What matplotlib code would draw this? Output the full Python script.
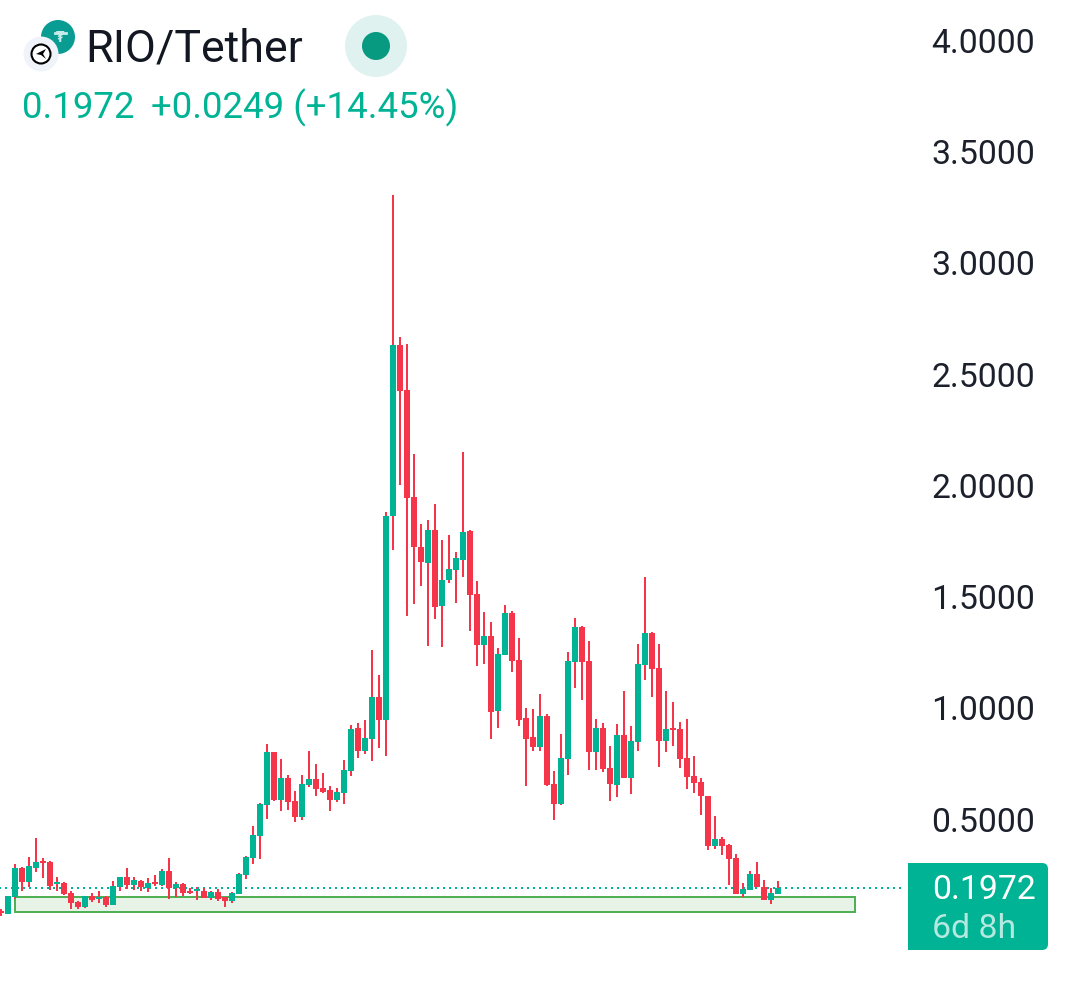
import matplotlib
matplotlib.use('Agg')
import matplotlib.pyplot as plt
from matplotlib.patches import Circle, FancyBboxPatch, Rectangle, Polygon
from matplotlib.transforms import ScaledTranslation
import numpy as np

plt.rcParams['font.family'] = ['Roboto', 'DejaVu Sans']

# candle values
opens = [.092, .078, .155, .285, .222, .285, .316, .312, .213, .217, .172, .132, .110, .159, .146, .155,
         .119, .199, .244, .208, .226, .195, .222, .208, .271, .195, .213, .181, .181, .181, .150, .177,
         .155, .137, .168, .253, .330, .429, .568, .806, .590, .689, .586, .514, .658, .685, .644, .635,
         .590, .622, .721, .914, .810, .864, 1.053, .950, 1.866, 2.634, 2.432, 1.951, 1.727, 1.655, 1.803, 1.462,
         1.579, 1.623, 1.668, 1.799, 1.516, 1.287, 1.327, .990, 1.242, 1.430, 1.219, .959, .873, .828, .968, .662,
         .572, .774, 1.210, 1.367, 1.215, .806, .914, .734, .658, .882, .689, .851, 1.197, 1.340, 1.183, .855,
         .914, .909, .779, .698, .671, .608, .384, .415, .388, .330, .168, .186, .258, .199, .141, .168]
highs = [.101, .159, .303, .289, .334, .420, .330, .316, .244, .222, .181, .137, .159, .172, .181, .159,
         .226, .244, .285, .244, .231, .240, .253, .280, .330, .222, .217, .195, .199, .195, .181, .190,
         .155, .177, .262, .339, .473, .577, .842, .806, .774, .703, .631, .703, .810, .752, .712, .653,
         .644, .770, .927, .936, .950, 1.264, 1.152, 1.884, 3.308, 2.670, 2.639, 2.144, 1.830, 1.848, 1.920, 1.758,
         1.781, 1.704, 2.153, 1.803, 1.574, 1.435, 1.390, 1.273, 1.466, 1.439, 1.318, 1.004, .999, 1.066, .977, .721,
         .887, 1.255, 1.408, 1.372, 1.304, .954, .936, .833, .932, 1.080, .923, 1.291, 1.592, 1.345, 1.291, 1.080,
         1.030, .941, .954, .788, .689, .608, .518, .424, .393, .348, .217, .271, .312, .231, .195, .226]
lows = [.069, .078, .146, .181, .199, .267, .240, .186, .181, .164, .101, .101, .105, .132, .128, .110,
        .119, .181, .190, .186, .181, .177, .204, .204, .146, .155, .159, .168, .141, .150, .141, .137,
        .110, .128, .168, .235, .303, .325, .505, .586, .541, .545, .491, .500, .649, .608, .622, .541,
        .581, .572, .698, .779, .797, .765, .824, .788, 1.713, 2.005, 1.417, 1.471, 1.552, 1.282, 1.403, 1.278,
        1.565, 1.475, 1.592, 1.349, 1.192, 1.201, .864, .914, 1.242, 1.165, .923, .653, .810, .810, .653, .500,
        .568, .703, 1.093, 1.039, .725, .725, .716, .586, .604, .689, .617, .810, 1.129, 1.053, .738, .806,
        .833, .734, .640, .622, .523, .366, .370, .343, .208, .168, .155, .186, .199, .141, .123, .168]
closes = [.084, .159, .285, .222, .294, .312, .307, .204, .222, .168, .128, .110, .159, .141, .155, .119,
          .204, .244, .208, .231, .199, .217, .213, .271, .195, .213, .172, .172, .190, .150, .177, .146,
          .137, .172, .258, .334, .433, .572, .806, .590, .689, .581, .514, .662, .685, .640, .626, .590,
          .626, .725, .909, .810, .869, 1.053, .950, 1.866, 2.634, 2.427, 1.947, 1.727, 1.659, 1.803, 1.457, 1.579,
          1.628, 1.677, 1.794, 1.511, 1.287, 1.327, .986, 1.246, 1.430, 1.215, .950, .864, .828, .968, .658, .572,
          .779, 1.215, 1.367, 1.210, .806, .914, .729, .662, .882, .689, .855, 1.201, 1.340, 1.179, .855, .909,
          .905, .774, .694, .667, .608, .384, .415, .384, .325, .168, .190, .258, .199, .141, .172, .1972]

y_ticks = [0.5, 1.0, 1.5, 2.0, 2.5, 3.0, 3.5, 4.0]
last_price = 0.1972
zone_low = 0.085
zone_high = 0.1545
zone_start = 2
zone_end = 122

GREEN = '#00b395'
RED = '#f5364a'
idx = np.arange(len(opens))
o = np.array(opens)
h = np.array(highs)
l = np.array(lows)
c = np.array(closes)
colors = [GREEN if cl >= op else RED for op, cl in zip(o, c)]

fig = plt.figure(figsize=(10.8, 9.85), dpi=100)
ax = fig.add_axes([0, 0, 1, 1])
ax.set_xlim(-1 / 7, 1079 / 7)
ax.set_ylim((931.4 - 985) / 222.6, 931.4 / 222.6)
for s in ax.spines.values():
    s.set_visible(False)
ax.xaxis.set_visible(False)
ax.yaxis.tick_right()
ax.set_yticks(y_ticks)
ax.set_yticklabels([f'{v:.4f}' for v in y_ticks], ha='right', fontsize=24.3, color='#1c202b')
ax.tick_params(axis='y', length=0, pad=-32.4)
# labels sit a little higher than the tick centre
for lbl in ax.get_yticklabels():
    lbl.set_transform(lbl.get_transform() + ScaledTranslation(0, 0.8 / 100, fig.dpi_scale_trans))

# support zone, under the candles
ax.add_patch(Rectangle((zone_start, zone_low), zone_end - zone_start, zone_high - zone_low,
                       facecolor='#e8f3e8', edgecolor='#4caf50', linewidth=1.4, zorder=1))

# dotted last price line
ax.plot([idx[0] - 1, 128.5], [last_price, last_price], color=GREEN, linewidth=1.44,
        linestyle=(0, (1, 2)), dash_capstyle='butt', zorder=2)

# candles, wicks are red on both sides
ax.vlines(idx, l, h, colors=RED, linewidth=1.44, zorder=3)
body_low = np.minimum(o, c)
body_h = np.maximum(np.abs(c - o), 0.009)
ax.bar(idx, body_h, bottom=body_low, width=6 / 7, color=colors, linewidth=0, zorder=4)

# overlay in pixels for header, icons and price badge
ov = fig.add_axes([0, 0, 1, 1])
ov.set_xlim(0, 1080)
ov.set_ylim(985, 0)
ov.axis('off')
ov.patch.set_alpha(0)

ov.text(85.5, 61, 'RIO/Tether', fontsize=32.2, color='#131722', va='baseline', ha='left')
ov.text(22.5, 118, '0.1972', fontsize=26.4, color=GREEN, va='baseline', ha='left')
ov.text(151, 118, '+0.0249 (+14.45%)', fontsize=26.4, color=GREEN, va='baseline', ha='left')

# coin icons
ov.add_patch(Circle((58, 37), 17, facecolor='#089c92', edgecolor='none'))
ov.plot([55, 66], [33, 33], color='#c8ecea', linewidth=2)
ov.text(60, 38, '\u20ae', fontsize=10, color='#c8ecea', ha='center', va='center', fontweight='bold')
ov.add_patch(Circle((41, 54), 17.5, facecolor='#f0f3fa', edgecolor='none'))
ov.add_patch(Circle((41, 54), 9.5, facecolor='white', edgecolor='black', linewidth=1.5))
ov.add_patch(Polygon([(36, 54), (46, 49), (43, 54), (46, 59), (41, 55)], facecolor='black', edgecolor='none'))

# status dot
ov.add_patch(Circle((376, 46), 31, facecolor='#dff2ef', edgecolor='none'))
ov.add_patch(Circle((376, 46), 14, facecolor='#089981', edgecolor='none'))

# price badge, square on the left
ov.add_patch(FancyBboxPatch((912, 867), 132, 79, boxstyle='round,pad=4,rounding_size=6',
                            facecolor=GREEN, edgecolor='none'))
ov.add_patch(Rectangle((908, 863), 12, 87, facecolor=GREEN, edgecolor='none'))
ov.text(1035.5, 899, f'{last_price:.4f}', fontsize=24.3, color='white', ha='right', va='baseline')
ov.text(932, 938, '6d 8h', fontsize=24.3, color='#b5e8de', ha='left', va='baseline')

fig.savefig('out.png', dpi=100)
